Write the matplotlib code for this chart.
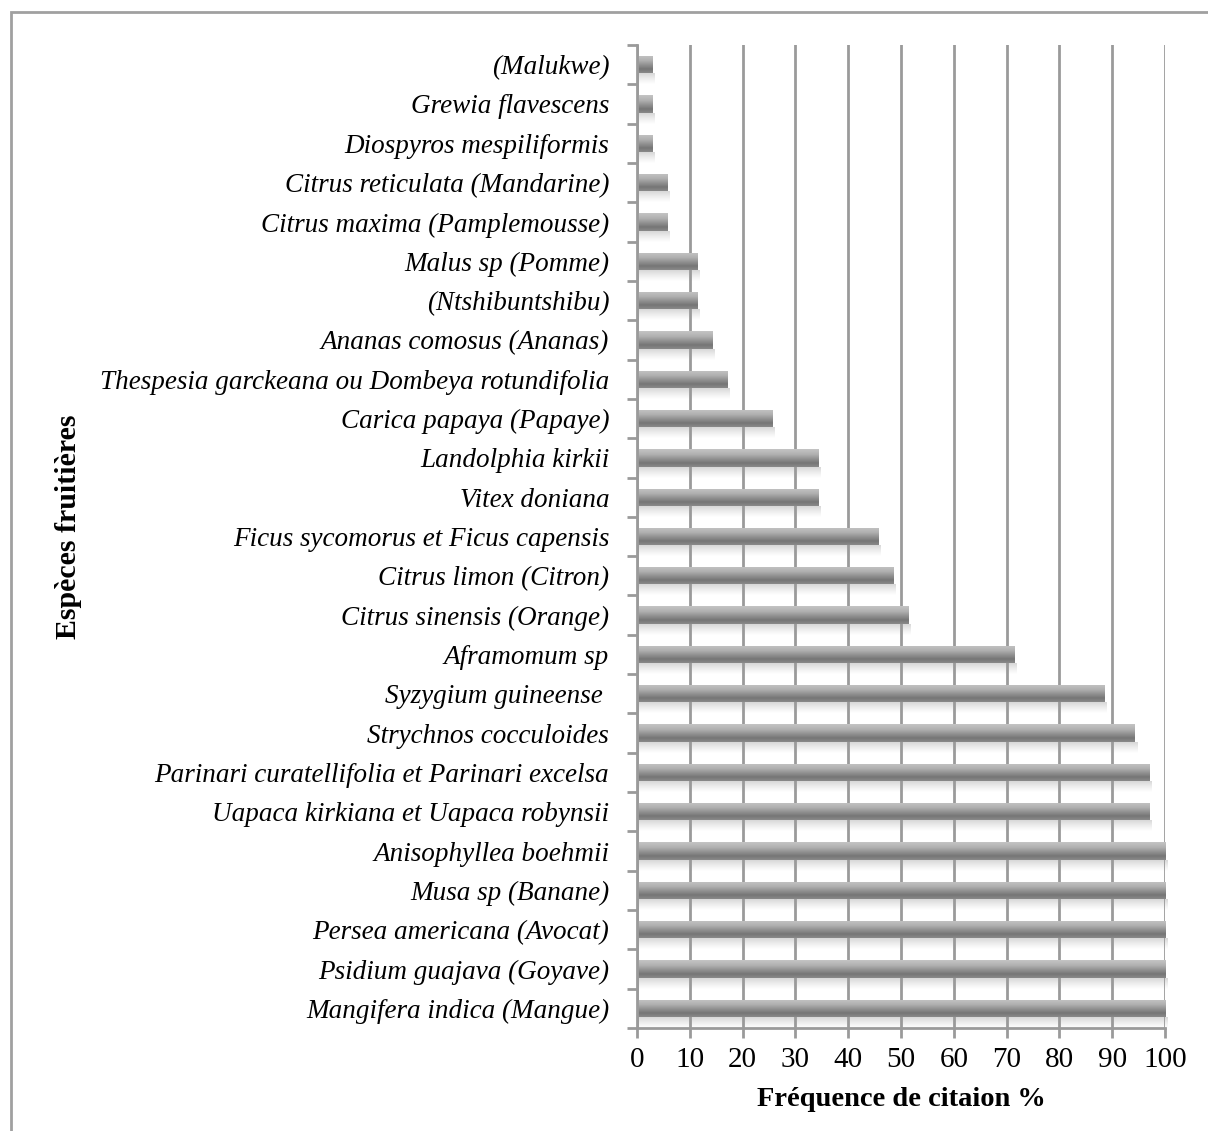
import numpy as np
import matplotlib
matplotlib.use("Agg")
import matplotlib.pyplot as plt
from matplotlib.colors import LinearSegmentedColormap
from matplotlib.patches import Rectangle

# fruit species, listed bottom to top
especes = [
    "Mangifera indica (Mangue)",
    "Psidium guajava (Goyave)",
    "Persea americana (Avocat)",
    "Musa sp (Banane)",
    "Anisophyllea boehmii",
    "Uapaca kirkiana et Uapaca robynsii",
    "Parinari curatellifolia et Parinari excelsa",
    "Strychnos cocculoides",
    "Syzygium guineense ",
    "Aframomum sp",
    "Citrus sinensis (Orange)",
    "Citrus limon (Citron)",
    "Ficus sycomorus et Ficus capensis",
    "Vitex doniana",
    "Landolphia kirkii",
    "Carica papaya (Papaye)",
    "Thespesia garckeana ou Dombeya rotundifolia",
    "Ananas comosus (Ananas)",
    "(Ntshibuntshibu)",
    "Malus sp (Pomme)",
    "Citrus maxima (Pamplemousse)",
    "Citrus reticulata (Mandarine)",
    "Diospyros mespiliformis",
    "Grewia flavescens",
    "(Malukwe)",
]
frequence = [100, 100, 100, 100, 100, 97.1, 97.1, 94.3, 88.6, 71.4,
             51.4, 48.6, 45.7, 34.3, 34.3, 25.7, 17.1, 14.3, 11.4, 11.4,
             5.7, 5.7, 2.9, 2.9, 2.9]
graduations = [0, 10, 20, 30, 40, 50, 60, 70, 80, 90, 100]

plt.rcParams["font.family"] = ["Liberation Serif", "DejaVu Serif"]
gris = "#9a9a9a"

fig = plt.figure(figsize=(12.08, 11.31), dpi=100)
ax = fig.add_axes([0.5273, 0.0911, 0.4371, 0.8691])

y = np.arange(len(especes))
bars = ax.barh(y, frequence, height=0.44, color="none", zorder=3)

# cylinder-like shading: light top, dark lower part
bar_cmap = LinearSegmentedColormap.from_list(
    "barre", [(0, "#c4c4c4"), (0.3, "#b0b0b0"), (0.78, "#757575"), (1, "#8a8a8a")])
ombre_cmap = LinearSegmentedColormap.from_list(
    "ombre", [(0, "#d4d4d4"), (0.5, "#ececec"), (1, "#ffffff")])
grad = np.linspace(0, 1, 64).reshape(-1, 1)
hauteur_ombre = 0.28

for b in bars:
    x0, y0 = b.get_x(), b.get_y()
    w, h = b.get_width(), b.get_height()
    # soft shadow under the bar
    sh = Rectangle((x0, y0 - hauteur_ombre), w + 0.4, hauteur_ombre,
                   transform=ax.transData, facecolor="none")
    ax.add_patch(sh)
    im = ax.imshow(grad, cmap=ombre_cmap, aspect="auto", origin="upper",
                   extent=(x0, x0 + w + 0.4, y0 - hauteur_ombre, y0),
                   zorder=0.5, interpolation="bilinear")
    im.set_clip_path(sh)
    im = ax.imshow(grad, cmap=bar_cmap, aspect="auto", origin="upper",
                   extent=(x0, x0 + w, y0, y0 + h), zorder=3, interpolation="bilinear")
    im.set_clip_path(b)

ax.set_xlim(0, 100)
ax.set_ylim(-0.5, len(especes) - 0.5)

ax.set_xticks(graduations)
ax.set_xticklabels([str(g) for g in graduations], fontsize=21)
ax.xaxis.grid(True, color=gris, linewidth=2, zorder=1)

# tick marks between categories, names at centres
ax.set_yticks(np.arange(len(especes) + 1) - 0.5)
ax.set_yticklabels([])
ax.set_yticks(y, minor=True)
ax.set_yticklabels(especes, minor=True, fontsize=19.5, style="italic")
ax.tick_params(axis="y", which="major", length=7, width=2, color=gris, direction="out")
ax.tick_params(axis="y", which="minor", length=0, pad=20)
ax.tick_params(axis="x", length=7, width=2, color=gris, direction="out", pad=7)

for s in ["top", "right"]:
    ax.spines[s].set_visible(False)
for s in ["left", "bottom"]:
    ax.spines[s].set_color(gris)
    ax.spines[s].set_linewidth(2)
    ax.spines[s].set_zorder(4)

ax.set_xlabel("Fréquence de citaion %", fontsize=20.5, fontweight="bold", labelpad=10)
fig.text(0.057, 0.534, "Espèces fruitières", rotation=90, fontsize=21.5,
         fontweight="bold", ha="center", va="center")

# outer frame
fig.add_artist(Rectangle((0.0095, -0.01), 1.1, 0.999, transform=fig.transFigure,
                         facecolor="none", edgecolor="#a0a0a0", linewidth=2))

fig.savefig("out.png", dpi=100)
